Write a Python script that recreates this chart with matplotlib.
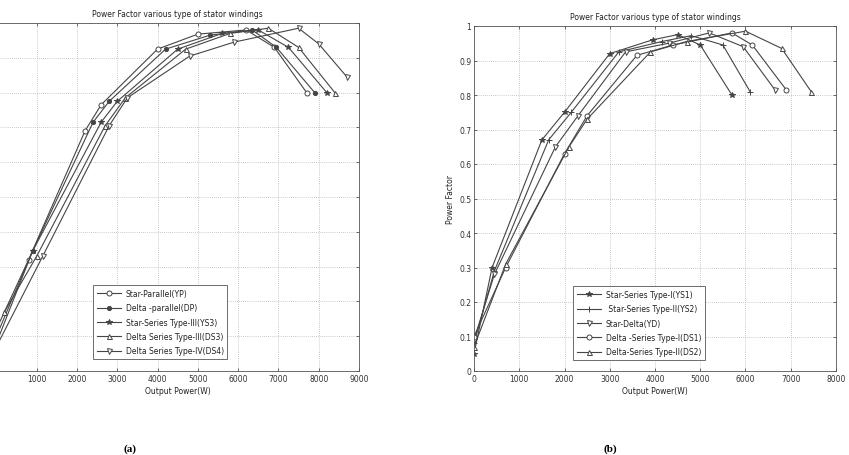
import matplotlib
matplotlib.use("Agg")
import matplotlib.pyplot as plt

# ---------------- data: panel (a) ----------------
a_labels = ["Star-Parallel(YP)", "Delta -parallel(DP)", "Star-Series Type-III(YS3)",
            "Delta Series Type-III(DS3)", "Delta Series Type-IV(DS4)"]
yp_x = [0, 800, 2200, 2600, 4000, 5000, 6200, 6900, 7700]
yp_y = [0.12, 0.32, 0.69, 0.765, 0.925, 0.968, 0.98, 0.93, 0.80]
dp_x = [0, 900, 2400, 2800, 4200, 5300, 6350, 6950, 7900]
dp_y = [0.10, 0.345, 0.715, 0.775, 0.925, 0.965, 0.98, 0.93, 0.80]
ys3_x = [0, 900, 2600, 3000, 4500, 5600, 6500, 7250, 8200]
ys3_y = [0.08, 0.345, 0.715, 0.775, 0.925, 0.97, 0.98, 0.93, 0.80]
ds3_x = [200, 1000, 2700, 3200, 4700, 5800, 6750, 7500, 8400]
ds3_y = [0.17, 0.33, 0.705, 0.785, 0.925, 0.97, 0.985, 0.93, 0.80]
ds4_x = [0, 1150, 2800, 3250, 4800, 5900, 7500, 8000, 8700]
ds4_y = [0.07, 0.33, 0.705, 0.785, 0.905, 0.945, 0.985, 0.94, 0.845]

# ---------------- data: panel (b) ----------------
b_labels = ["Star-Series Type-I(YS1)", " Star-Series Type-II(YS2)", "Star-Delta(YD)",
            "Delta -Series Type-I(DS1)", "Delta-Series Type-II(DS2)"]
ys1_x = [0, 400, 1500, 2000, 3000, 3950, 4500, 5000, 5700]
ys1_y = [0.05, 0.30, 0.67, 0.75, 0.92, 0.96, 0.975, 0.945, 0.80]
ys2_x = [0, 450, 1650, 2150, 3200, 4150, 4800, 5500, 6100]
ys2_y = [0.08, 0.29, 0.67, 0.75, 0.925, 0.955, 0.972, 0.945, 0.81]
yd_x = [0, 450, 1800, 2300, 3350, 4300, 5200, 5950, 6650]
yd_y = [0.09, 0.28, 0.65, 0.74, 0.925, 0.95, 0.98, 0.94, 0.815]
ds1_x = [0, 700, 2000, 2500, 3600, 4400, 5700, 6150, 6900]
ds1_y = [0.10, 0.30, 0.63, 0.74, 0.915, 0.945, 0.98, 0.945, 0.815]
ds2_x = [0, 700, 2100, 2500, 3900, 4700, 6000, 6800, 7450]
ds2_y = [0.07, 0.31, 0.65, 0.73, 0.925, 0.955, 0.985, 0.935, 0.81]

a_xticks = [0, 1000, 2000, 3000, 4000, 5000, 6000, 7000, 8000, 9000]
b_xticks = [0, 1000, 2000, 3000, 4000, 5000, 6000, 7000, 8000]
yticks = [0, 0.1, 0.2, 0.3, 0.4, 0.5, 0.6, 0.7, 0.8, 0.9, 1.0]
ytick_labels = ["0", "0.1", "0.2", "0.3", "0.4", "0.5", "0.6", "0.7", "0.8", "0.9", "1"]

title = "Power Factor various type of stator windings"

LC = "#454545"
FS = 5.5

fig = plt.figure(figsize=(8.49, 4.56), dpi=100)
fig.patch.set_facecolor("white")

axA = fig.add_axes([-3.6 / 849, 84 / 456, 362.6 / 849, 348 / 456])
axB = fig.add_axes([474 / 849, 84 / 456, 362 / 849, 345 / 456])

common = dict(color=LC, lw=0.8, mew=0.7, mec=LC)

a_series = [
    (yp_x, yp_y, dict(marker="o", ms=3.6, mfc="white")),
    (dp_x, dp_y, dict(marker="o", ms=3.0, mfc=LC)),
    (ys3_x, ys3_y, dict(marker="*", ms=3.8, mfc=LC)),
    (ds3_x, ds3_y, dict(marker="^", ms=3.6, mfc="white")),
    (ds4_x, ds4_y, dict(marker="v", ms=3.6, mfc="white")),
]
for (x, y, st), lab in zip(a_series, a_labels):
    axA.plot(x, y, label=lab, **common, **st)

b_series = [
    (ys1_x, ys1_y, dict(marker="*", ms=3.8, mfc=LC)),
    (ys2_x, ys2_y, dict(marker="+", ms=4.2, mfc=LC)),
    (yd_x, yd_y, dict(marker="v", ms=3.6, mfc="white")),
    (ds1_x, ds1_y, dict(marker="o", ms=3.6, mfc="white")),
    (ds2_x, ds2_y, dict(marker="^", ms=3.6, mfc="white")),
]
for (x, y, st), lab in zip(b_series, b_labels):
    axB.plot(x, y, label=lab, **common, **st)

for ax, xt, xmax in [(axA, a_xticks, 9000), (axB, b_xticks, 8000)]:
    ax.set_xlim(0, xmax)
    ax.set_ylim(0, 1)
    ax.set_xticks(xt)
    ax.set_yticks(yticks)
    ax.tick_params(direction="in", length=2.5, width=0.5, labelsize=FS,
                   colors="#333333", top=True, right=True, pad=2)
    ax.grid(True, linestyle=(0, (1, 2)), color="#9a9a9a", linewidth=0.5)
    for s in ax.spines.values():
        s.set_color("#555555")
        s.set_linewidth(0.6)
    ax.set_title(title, fontsize=FS, color="#222222", pad=5)
    ax.set_xlabel("Output Power(W)", fontsize=FS, color="#222222", labelpad=2)

# panel (a): its y axis and the "0" x label lie outside the cropped picture
axA.set_xticklabels([""] + [str(v) for v in a_xticks[1:]])
axA.set_yticklabels([])
axB.set_xticklabels([str(v) for v in b_xticks])
axB.set_yticklabels(ytick_labels)
axB.set_ylabel("Power Factor", fontsize=FS, color="#222222", labelpad=3)

legkw = dict(fontsize=FS, loc="lower left", frameon=True, fancybox=False,
             framealpha=1, edgecolor="#555555", handlelength=3.2,
             labelspacing=0.7, borderpad=0.5, handletextpad=0.6)
lgA = axA.legend(bbox_to_anchor=(0.255, 0.023), **legkw)
lgB = axB.legend(bbox_to_anchor=(0.263, 0.02), **legkw)
for lg in (lgA, lgB):
    lg.get_frame().set_linewidth(0.6)
    for t in lg.get_texts():
        t.set_color("#222222")

fig.text(130 / 849, 1 - 449 / 456, "(a)", fontsize=8, fontweight="bold",
         family="Liberation Serif", ha="center", va="center")
fig.text(610 / 849, 1 - 449 / 456, "(b)", fontsize=8, fontweight="bold",
         family="Liberation Serif", ha="center", va="center")

fig.savefig("out.png", dpi=100, facecolor="white")
